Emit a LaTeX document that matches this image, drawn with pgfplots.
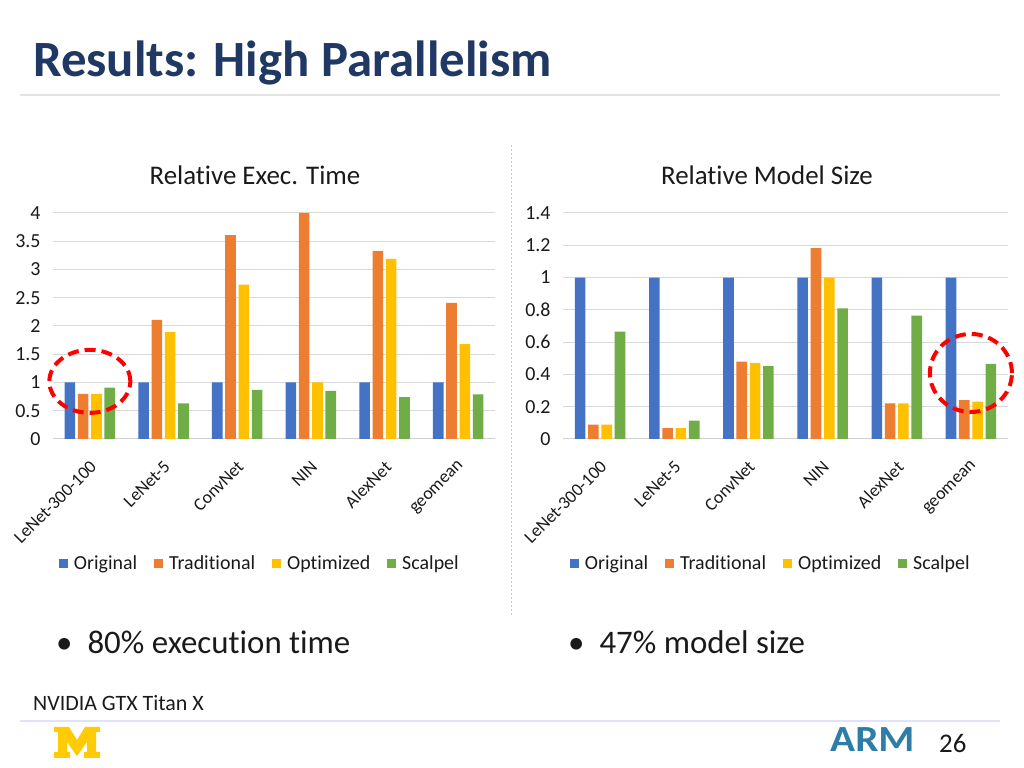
\documentclass[border=0pt]{standalone}
\usepackage{pgfplots}
\pgfplotsset{compat=1.18}
\usepackage{pgfplotstable}
\usepackage{fontspec}
\setmainfont[Ligatures=NoCommon]{Carlito}
\definecolor{cOrig}{HTML}{4472C4}
\definecolor{cTrad}{HTML}{ED7D31}
\definecolor{cOpt}{HTML}{FFC000}
\definecolor{cScal}{HTML}{70AD47}
\definecolor{titleblue}{HTML}{203864}
\definecolor{gridgray}{HTML}{D9D9D9}
\definecolor{axisgray}{HTML}{D0D0D0}
\definecolor{mgold}{HTML}{FFCB05}
\definecolor{armblue}{HTML}{2D7DA6}
\definecolor{txt}{HTML}{1A1A1A}

\pgfplotstableread{
x orig trad opt scal
0 1 0.80 0.80 0.91
1 1 2.11 1.89 0.63
2 1 3.61 2.73 0.87
3 1 4.00 1.00 0.85
4 1 3.33 3.19 0.74
5 1 2.41 1.68 0.79
}\exectime
\pgfplotstableread{
x orig trad opt scal
0 1 0.089 0.089 0.665
1 1 0.068 0.068 0.114
2 1 0.479 0.471 0.452
3 1 1.183 1.000 0.809
4 1 0.221 0.221 0.764
5 1 0.240 0.231 0.465
}\modelsize

\pgfplotsset{
  slide/.style={
    scale only axis, height=226bp,
    ybar=2.7bp, bar width=10.6bp,
    xmin=-0.5, xmax=5.5, ymin=0,
    axis lines*=left,
    y axis line style={draw=none},
    x axis line style={axisgray, line width=1bp},
    major tick length=0pt,
    ymajorgrids, grid style={gridgray, line width=1bp},
    xtick={0,1,2,3,4,5},
    xticklabels={LeNet-300-100,LeNet-5,ConvNet,NIN,AlexNet,geomean},
    x tick label style={rotate=45, anchor=north east, font=\fontsize{18}{18}\selectfont, text=txt, inner sep=2bp, yshift=-12bp, xshift=-13bp},
    y tick label style={font=\fontsize{20}{20}\selectfont, text=txt, xshift=-9bp},
    /pgf/number format/assume math mode=true,
    /pgf/number format/fixed,
    clip=false,
    legend columns=4,
    legend style={draw=none, fill=none, anchor=center, font=\fontsize{20}{20}\selectfont, text=txt,
      /tikz/every even column/.append style={column sep=15bp}},
    legend image code/.code={\fill[##1] (0bp,-4.5bp) rectangle (9bp,4.5bp); \path (13bp,0bp);},
  },
  barO/.style={fill=cOrig, draw=none},
  barT/.style={fill=cTrad, draw=none},
  barP/.style={fill=cOpt, draw=none},
  barS/.style={fill=cScal, draw=none},
}

\begin{document}
\begin{tikzpicture}[x=1bp, y=1bp]
\useasboundingbox (0,0) rectangle (1024,768);
\fill[white] (0,0) rectangle (1024,768);

% title
\node[anchor=base west, inner sep=0, font=\fontsize{51}{51}\selectfont\bfseries, text=titleblue] at (33,768-77) {Results: High Parallelism};
\draw[gray!22, line width=1.5bp] (20,768-95) -- (1000,768-95);

% divider
\draw[gray!45, line width=0.8bp, dash pattern=on 2bp off 2bp] (511,768-145) -- (511,768-615);

% chart titles
\node[anchor=base, inner sep=0, font=\fontsize{27}{27}\selectfont, text=txt] at (255,768-185) {Relative Exec. Time};
\node[anchor=base, inner sep=0, font=\fontsize{27}{27}\selectfont, text=txt] at (767,768-185) {Relative Model Size};

% left chart
\begin{axis}[slide, at={(53bp,329bp)}, anchor=south west, width=442bp,
  ymax=4, ytick={0,0.5,1,1.5,2,2.5,3,3.5,4},
  legend style={at={(0.468,-0.549)}}]
\addplot[barO] table[x=x,y=orig] {\exectime};
\addplot[barT] table[x=x,y=trad] {\exectime};
\addplot[barP] table[x=x,y=opt] {\exectime};
\addplot[barS] table[x=x,y=scal] {\exectime};
\legend{Original,Traditional,Optimized,Scalpel}
\draw[red, line width=4bp, dash pattern=on 11bp off 6bp] (axis cs:0,1.02) ellipse [x radius=40.5bp, y radius=31.5bp];
\end{axis}

% right chart
\begin{axis}[slide, at={(563bp,329bp)}, anchor=south west, width=445bp,
  ymax=1.4, ytick={0,0.2,0.4,0.6,0.8,1,1.2,1.4},
  /pgf/number format/precision=1,
  legend style={at={(0.467,-0.549)}}]
\addplot[barO] table[x=x,y=orig] {\modelsize};
\addplot[barT] table[x=x,y=trad] {\modelsize};
\addplot[barP] table[x=x,y=opt] {\modelsize};
\addplot[barS] table[x=x,y=scal] {\modelsize};
\legend{Original,Traditional,Optimized,Scalpel}
\draw[red, line width=4bp, dash pattern=on 11bp off 6bp] (axis cs:5,0.409) ellipse [x radius=41bp, y radius=39bp];
\end{axis}

% bullets
\node[anchor=base west, inner sep=0, font=\fontsize{33}{33}\selectfont, text=txt] at (56,768-654) {\textbullet\hspace{15bp}80\% execution time};
\node[anchor=base west, inner sep=0, font=\fontsize{33}{33}\selectfont, text=txt] at (568,768-654) {\textbullet\hspace{15bp}47\% model size};

% footer
\node[anchor=base west, inner sep=0, font=\fontsize{22}{22}\selectfont, text=txt] at (33,768-711) {NVIDIA GTX Titan X};
\draw[blue!12, line width=1.5bp] (20,768-721) -- (1000,768-721);

% M logo
\fill[mgold] (54,768-727) -- (69,768-727) -- (77,768-740) -- (85,768-727) -- (100,768-727)
  -- (100,768-732) -- (96,768-732) -- (96,768-752) -- (100,768-752) -- (100,768-758)
  -- (84,768-758) -- (84,768-752) -- (87,768-752) -- (87,768-742) -- (77,768-756)
  -- (67,768-742) -- (67,768-752) -- (70,768-752) -- (70,768-758) -- (54,768-758)
  -- (54,768-752) -- (58,768-752) -- (58,768-732) -- (54,768-732) -- cycle;

% ARM logo and page number
\node[anchor=base west, inner sep=0, xscale=1.12, font=\fontsize{37}{37}\selectfont\bfseries, text=armblue] at (830,768-752) {ARM};
\node[anchor=base west, inner sep=0, font=\fontsize{27}{27}\selectfont, text=txt] at (939,768-753) {26};
\end{tikzpicture}
\end{document}
